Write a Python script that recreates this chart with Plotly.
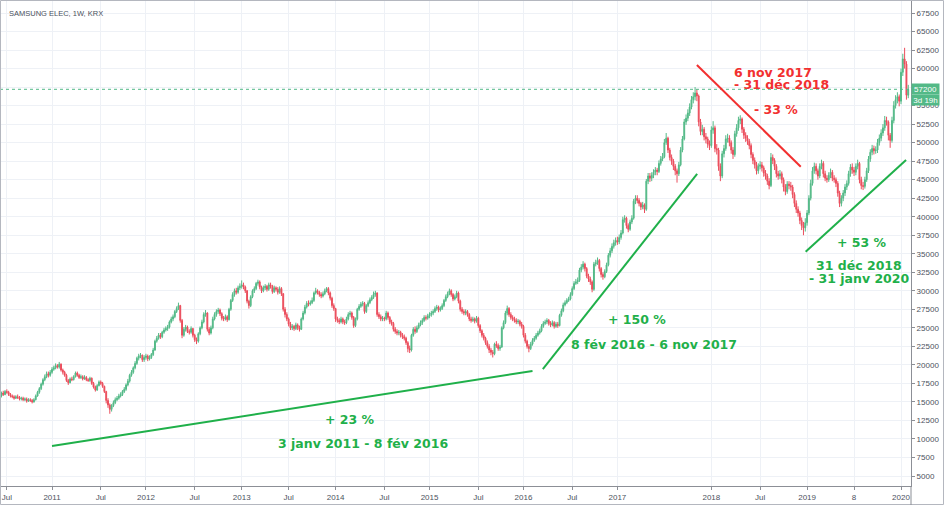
import pandas as pd
import plotly.graph_objects as go

# ---------------- data (weekly candles, KRW) ----------------
title_text = "SAMSUNG ELEC, 1W, KRX"
first_week = "2010-06-14"

opens = [
    # 2010
    16600,15800,16200,16000,16400,16300,16000,15800,15700,15500,15700,15600,15400,15500,15300,15400,15100,15300,15200,15000,15300,15800,16300,16800,17400,18000,18400,18800,18600,
    # 2011
    19000,19400,19600,19900,19700,20100,19300,19000,18600,17900,17600,18100,18000,18400,18900,18600,18300,18400,18100,18300,18000,17900,18200,17500,17000,16600,17200,17700,17500,17100,16400,15200,14600,14000,14500,14900,15300,15500,15800,16000,16400,16700,17300,17800,18600,19000,19600,20200,20900,21200,21300,20700,
    # 2012
    21000,21200,20800,21000,21400,22000,23200,23600,24000,23800,24400,24700,24900,25100,25800,26200,26500,27200,27600,28000,26000,24000,24800,25100,24500,24400,24900,24000,23400,23200,24200,25000,25800,26800,27000,24800,24300,25000,26200,26800,27200,27400,26900,26300,26200,26500,26100,27500,28700,29500,30000,29800,
    # 2013
    30400,30600,30800,30500,30000,28600,28000,29200,30000,30300,31000,31200,30500,30000,30400,30600,30200,30800,30600,29900,30400,30200,29800,30300,29600,27500,26800,26200,25500,25000,25200,24900,25400,25000,24800,26200,27000,27800,28300,28200,28400,28700,29700,30000,29800,29500,29300,29600,30000,30300,29700,29000,
    # 2014
    28000,27600,26200,26000,25800,26200,25800,25700,26200,26800,27000,26400,25300,26200,27500,27900,28200,28300,27200,28000,28400,28800,29100,29500,29700,26800,26500,26200,26300,26200,27000,26400,25800,25600,24800,24500,24300,24400,24000,23800,23600,23000,22200,22000,24000,24800,24500,25000,25400,25700,26000,26400,
    # 2015
    26300,26600,26800,27000,27200,27600,27800,27400,27600,28000,28700,29200,29600,30000,29500,28900,29200,29700,28600,27500,27200,27000,27200,26800,26200,26000,26200,25900,26300,25300,24600,24000,23600,23000,22500,22000,21700,21500,22800,22600,22200,22400,25000,25700,27000,27600,26800,26400,26200,26000,25800,25900,
    # 2016
    25500,25200,24000,23200,22500,22200,22800,23300,23600,24000,24300,24600,25200,25600,25800,26000,25600,25400,25700,25200,25500,25300,26700,27300,28100,28400,28700,28900,29500,30300,31000,31200,31400,32800,33200,33600,33000,32000,31600,31200,30200,33600,33800,34100,33000,32200,31900,32600,33500,34800,35400,36000,
    # 2017
    36500,36800,36600,37200,37800,39600,39800,38800,38300,39300,39800,42100,42500,42200,41800,41300,41600,41000,44800,45500,45200,45600,46000,46300,46100,47200,47800,48100,50000,50600,49000,48000,47500,46800,46200,45800,47000,49000,50500,52800,53300,54000,54800,55800,56200,56700,56300,52800,51500,51800,50800,50500,49800,
    # 2018
    49600,51700,52000,49200,49000,46800,45500,48500,49200,50500,50600,50000,49000,48400,51200,52000,53000,53200,51800,51000,50600,50200,49600,48400,47600,47000,46200,46800,47000,46600,45900,45500,44800,44200,48000,47600,46800,45800,45500,45800,45000,44000,43400,44400,44200,44000,43000,41800,41000,40500,39500,38800,
    # 2019
    38500,39200,40500,42500,44500,46200,46800,46200,45500,46800,47200,45800,45200,45000,45600,46000,45200,45000,44500,43200,41800,42500,43200,44000,44500,45800,46700,46300,46000,46800,47200,45000,44200,44100,45000,46200,47800,48700,49200,48900,49000,50000,50600,51300,52000,53000,52800,51000,50300,53000,55000,55800,
    # 2020
    56200,55600,59500,61300,60600,56400,
]

highs = [
    # 2010
    16900,16400,16500,16600,16700,16500,16200,16000,15900,15900,16000,15800,15700,15700,15600,15600,15500,15500,15400,15500,16000,16500,17000,17600,18200,18700,19100,19100,19300,
    # 2011
    19700,19900,20200,20100,20400,20200,19500,19200,18800,18100,18300,18400,18600,19100,19100,18800,18700,18600,18600,18500,18200,18400,18300,17700,17200,17400,17900,17900,17700,17200,16500,15500,14800,14700,15200,15600,15800,16100,16300,16600,17000,17500,18100,18800,19300,19800,20500,21100,21500,21600,21400,21300,
    # 2012
    21500,21400,21300,21600,22300,23400,23900,24300,24300,24600,25000,25200,25400,26000,26500,26800,27400,27900,28400,28100,26200,25100,25400,25300,24800,25200,25000,24200,23700,24400,25200,26100,27100,27400,27100,25100,25300,26500,27100,27500,27700,27600,27100,26600,26800,26700,27700,28900,29800,30300,30400,30700,
    # 2013
    31000,31400,31100,30700,30100,28800,29400,30200,30600,31200,31500,31400,30700,30700,30900,30800,31100,31100,30800,30700,30600,30500,30600,30500,29700,27800,27100,26400,25800,25500,25400,25700,25600,25300,26400,27300,28100,28600,28700,28700,29100,29900,30400,30200,30000,29800,29900,30300,30500,30500,29900,29200,
    # 2014
    28300,27700,26500,26300,26500,26400,26100,26500,27100,27300,27200,26600,26400,27700,28200,28500,28600,28500,28200,28700,29100,29400,29900,30000,29800,27100,26800,26600,26500,27300,27200,26600,26100,25800,25100,24800,24700,24600,24300,24100,23800,23200,22600,24200,25100,25200,25300,25700,26000,26300,26700,26700,
    # 2015
    26900,27100,27300,27500,27900,28100,28000,27900,28300,28900,29500,29900,30300,30200,29700,29500,30000,29900,28800,27800,27500,27500,27400,27000,26500,26500,26400,26600,26500,25500,24800,24300,23800,23300,22800,22300,22000,23000,23200,22900,22700,25200,26000,27300,28000,27800,27100,26700,26500,26300,26200,26100,
    # 2016
    25800,25400,24300,23400,22800,23100,23600,23900,24300,24600,24900,25500,25900,26100,26300,26200,25900,26000,25900,25800,25800,26900,27600,28400,28700,29000,29200,29800,30600,31300,31600,31800,33100,33600,34000,33800,33200,32300,31900,31400,33900,34200,34500,34300,33200,32500,32900,33800,35100,35800,36400,36900,
    # 2017
    37200,37300,37600,38200,40000,40200,40000,39100,39600,40200,42400,42900,42900,42500,42000,42000,41800,45100,45900,45900,46000,46400,46700,46600,47600,48200,48600,50500,51300,50800,49300,48400,47800,47100,46500,47400,49400,50900,53200,53800,54500,55300,56300,56800,57500,57200,56500,53200,52400,52100,51300,50800,50300,
    # 2018
    52200,52900,52300,49800,49300,47200,48900,49700,51000,51200,51000,50300,49400,51600,52500,53500,53700,53400,52100,51400,51000,50500,49900,48700,48000,47400,47200,47500,47400,46900,46300,45800,45200,48600,48400,47900,47100,46200,46300,46100,45300,44400,44800,44800,44700,44300,43300,42200,41400,40800,39900,39300,
    # 2019
    39800,40900,42900,45000,46700,47300,47200,46500,47200,47700,47500,46200,45600,46000,46500,46300,45600,45300,44800,43500,42900,43600,44400,44900,46200,47100,47200,46700,47200,47700,47400,45400,44700,45400,46600,48200,49100,49700,49600,49500,50500,51100,51800,52500,53600,53500,53000,51300,53500,55600,56400,56800,
    # 2020
    56500,60000,62000,62800,61000,57800,
]

lows = [
    # 2010
    15500,15600,15800,15900,16100,15800,15600,15500,15300,15400,15400,15200,15200,15100,15100,14900,15000,15000,14800,14900,15200,15700,16100,16600,17200,17800,18200,18300,18400,
    # 2011
    18800,19200,19400,19500,19500,19100,18700,18400,17700,17300,17500,17800,17900,18300,18400,18100,18100,17900,18000,17800,17700,17700,17300,16800,16400,16500,17100,17300,16900,16200,14800,14200,13400,13700,14300,14700,15100,15300,15600,15800,16200,16500,17100,17600,18400,18800,19400,20000,20600,20900,20400,20400,
    # 2012
    20700,20500,20600,20800,21200,21900,23000,23400,23500,23600,24200,24500,24600,24900,25600,25900,26300,27000,27400,25700,23600,23800,24500,24300,24100,24200,23700,23100,22800,23000,24000,24800,25600,26500,24500,24000,24100,24800,26000,26500,26900,26600,26000,25900,26000,25800,26000,27300,28500,29200,29500,29600,
    # 2013
    30100,30300,30200,29700,28300,27600,27800,29000,29700,30100,30700,30200,29700,29800,30100,29900,30000,30300,29600,29700,29900,29500,29600,29300,27200,26400,25900,25200,24700,24700,24600,24700,24700,24500,24700,26000,26800,27600,27900,28000,28200,28500,29500,29500,29200,29000,29100,29400,29800,29400,28700,27700,
    # 2014
    27300,25800,25700,25500,25600,25500,25400,25500,26000,26500,26100,25000,25100,26000,27300,27700,27900,26900,27000,27800,28200,28600,28900,29200,26500,26200,25900,25900,25900,26000,26100,25500,25300,24500,24200,24000,24000,23700,23500,23300,22700,21700,21600,21800,23800,24200,24300,24800,25200,25400,25800,26000,
    # 2015
    26100,26300,26500,26700,27000,27300,27100,27200,27400,27800,28500,29000,29400,29200,28600,28700,29000,28300,27200,26900,26700,26700,26500,25900,25700,25800,25600,25700,25000,24300,23700,23300,22700,22200,21600,21300,21000,21300,22300,21900,21900,22300,24800,25500,26700,26500,26100,25900,25700,25500,25500,25200,
    # 2016
    24900,23700,22900,22200,21700,22000,22600,23100,23400,23800,24100,24400,25000,25400,25500,25300,25100,25200,24900,25000,25000,25200,26500,27100,27900,28200,28500,28700,29300,30100,30800,30900,31200,32500,32900,32600,31700,31200,30800,29800,30000,33300,33500,32600,31800,31500,31700,32400,33300,34500,35100,35700,
    # 2017
    36100,36200,36300,36900,37600,39200,38400,37900,38100,39000,39600,41700,41800,41400,40900,41000,40500,40800,44400,44700,44800,45200,45600,45600,45900,46900,47500,47900,49700,48600,47600,47000,46300,45600,44600,45500,46800,48700,50300,52400,52900,53600,54500,55300,55700,55600,52200,51000,51000,50300,49900,49300,49000,
    # 2018
    49300,51200,48700,48400,46200,44800,45200,48000,48900,50000,49500,48500,47800,48100,50800,51600,52500,51300,50500,50100,49700,49100,47900,47100,46500,45700,45800,46400,46100,45400,45000,44300,43700,44000,47100,46300,45300,45000,45100,44500,43400,42900,43100,43700,43500,42500,41300,40500,40000,39000,38200,37500,
    # 2019
    38000,38800,40200,42200,44200,45800,45700,45000,45200,46400,45300,44800,44600,44700,45200,44800,44600,44000,42700,41300,41400,42100,42800,43600,44200,45400,45800,45500,45600,46400,44500,43700,43600,43800,44700,45900,47400,48300,48400,48500,48600,49600,50200,50900,51600,52300,50300,49300,50000,52600,54600,55300,
    # 2020
    54900,55200,59000,60000,55800,56000,
]

closes = [
    # 2010
    15800,16200,16000,16400,16300,16000,15800,15700,15500,15700,15600,15400,15500,15300,15400,15100,15300,15200,15000,15300,15800,16300,16800,17400,18000,18400,18800,18600,19000,
    # 2011
    19400,19600,19900,19700,20100,19300,19000,18600,17900,17600,18100,18000,18400,18900,18600,18300,18400,18100,18300,18000,17900,18200,17500,17000,16600,17200,17700,17500,17100,16400,15200,14600,14000,14500,14900,15300,15500,15800,16000,16400,16700,17300,17800,18600,19000,19600,20200,20900,21200,21300,20700,21000,
    # 2012
    21200,20800,21000,21400,22000,23200,23600,24000,23800,24400,24700,24900,25100,25800,26200,26500,27200,27600,28000,26000,24000,24800,25100,24500,24400,24900,24000,23400,23200,24200,25000,25800,26800,27000,24800,24300,25000,26200,26800,27200,27400,26900,26300,26200,26500,26100,27500,28700,29500,30000,29800,30400,
    # 2013
    30600,30800,30500,30000,28600,28000,29200,30000,30300,31000,31200,30500,30000,30400,30600,30200,30800,30600,29900,30400,30200,29800,30300,29600,27500,26800,26200,25500,25000,25200,24900,25400,25000,24800,26200,27000,27800,28300,28200,28400,28700,29700,30000,29800,29500,29300,29600,30000,30300,29700,29000,28000,
    # 2014
    27600,26200,26000,25800,26200,25800,25700,26200,26800,27000,26400,25300,26200,27500,27900,28200,28300,27200,28000,28400,28800,29100,29500,29700,26800,26500,26200,26300,26200,27000,26400,25800,25600,24800,24500,24300,24400,24000,23800,23600,23000,22200,22000,24000,24800,24500,25000,25400,25700,26000,26400,26300,
    # 2015
    26600,26800,27000,27200,27600,27800,27400,27600,28000,28700,29200,29600,30000,29500,28900,29200,29700,28600,27500,27200,27000,27200,26800,26200,26000,26200,25900,26300,25300,24600,24000,23600,23000,22500,22000,21700,21500,22800,22600,22200,22400,25000,25700,27000,27600,26800,26400,26200,26000,25800,25900,25500,
    # 2016
    25200,24000,23200,22500,22200,22800,23300,23600,24000,24300,24600,25200,25600,25800,26000,25600,25400,25700,25200,25500,25300,26700,27300,28100,28400,28700,28900,29500,30300,31000,31200,31400,32800,33200,33600,33000,32000,31600,31200,30200,33600,33800,34100,33000,32200,31900,32600,33500,34800,35400,36000,36500,
    # 2017
    36800,36600,37200,37800,39600,39800,38800,38300,39300,39800,42100,42500,42200,41800,41300,41600,41000,44800,45500,45200,45600,46000,46300,46100,47200,47800,48100,50000,50600,49000,48000,47500,46800,46200,45800,47000,49000,50500,52800,53300,54000,54800,55800,56200,56700,56300,52800,51500,51800,50800,50500,49800,49600,
    # 2018
    51700,52000,49200,49000,46800,45500,48500,49200,50500,50600,50000,49000,48400,51200,52000,53000,53200,51800,51000,50600,50200,49600,48400,47600,47000,46200,46800,47000,46600,45900,45500,44800,44200,48000,47600,46800,45800,45500,45800,45000,44000,43400,44400,44200,44000,43000,41800,41000,40500,39500,38800,38500,
    # 2019
    39200,40500,42500,44500,46200,46800,46200,45500,46800,47200,45800,45200,45000,45600,46000,45200,45000,44500,43200,41800,42500,43200,44000,44500,45800,46700,46300,46000,46800,47200,45000,44200,44100,45000,46200,47800,48700,49200,48900,49000,50000,50600,51300,52000,53000,52800,51000,50300,53000,55000,55800,56200,
    # 2020
    55600,59500,61300,60600,56400,57200,
]

assert len(opens) == len(highs) == len(lows) == len(closes), (len(opens), len(highs), len(lows), len(closes))

price_ticks = [5000, 7500, 10000, 12500, 15000, 17500, 20000, 22500, 25000, 27500, 30000, 32500,
               35000, 37500, 40000, 42500, 45000, 47500, 50000, 52500, 55000, 57500, 60000, 62500,
               65000, 67500]
# 57500 is hidden under the last-price tag in the reference
price_tick_labels = ["5000", "7500", "10000", "12500", "15000", "17500", "20000", "22500", "25000",
                     "27500", "30000", "32500", "35000", "37500", "40000", "42500", "45000", "47500",
                     "50000", "52500", "55000", "", "60000", "62500", "65000", "67500"]
time_tick_dates = ["2010-07-12", "2011-01-03", "2011-07-11", "2012-01-02", "2012-07-09", "2013-01-07",
                   "2013-07-08", "2014-01-06", "2014-07-14", "2015-01-05", "2015-07-13", "2016-01-04",
                   "2016-07-11", "2017-01-02", "2018-01-01", "2018-07-09", "2019-01-07", "2019-07-08",
                   "2020-01-06"]
time_tick_labels = ["Jul", "2011", "Jul", "2012", "Jul", "2013", "Jul", "2014", "Jul", "2015", "Jul",
                    "2016", "Jul", "2017", "2018", "Jul", "2019", "8", "2020"]

# trend lines: (start date, start price, end date, end price)
trend_up_1 = ("2011-01-03", 9050, "2016-02-08", 19170)
trend_up_2 = ("2016-03-19", 19440, "2017-11-07", 45770)
trend_down = ("2017-11-06", 60480, "2018-12-13 12:00", 46750)
trend_up_3 = ("2019-01-01 10:00", 35280, "2020-01-25 14:00", 47660)

label_23 = ["+ 23 %", "3 janv 2011 - 8 fév 2016"]
label_150 = ["+ 150 %", "8 fév 2016 - 6 nov 2017"]
label_33 = ["6 nov 2017", "- 31 déc 2018", "- 33 %"]
label_53 = ["+ 53 %", "31 déc 2018", "- 31 janv 2020"]
countdown_text = "3d 19h"

# ---------------- figure ----------------
UP = "#53b987"
DOWN = "#eb4d5c"
GREEN = "#1fb04a"
RED = "#f23030"
GRID = "#eef1f6"
AXIS = "#8c8f96"
TXT = "#4c525e"

W, H = 944, 505
ML, MR, MT, MB = 0, 33, 0, 19
PW, PH = W - ML - MR, H - MT - MB

dates = pd.date_range(first_week, periods=len(closes), freq="7D")
last_price = closes[-1]

fig = go.Figure()
fig.add_trace(go.Candlestick(
    x=dates, open=opens, high=highs, low=lows, close=closes,
    increasing=dict(line=dict(color=UP, width=1), fillcolor=UP),
    decreasing=dict(line=dict(color=DOWN, width=1), fillcolor=DOWN),
    whiskerwidth=0, hoverinfo="skip", showlegend=False,
))

fig.update_layout(
    width=W, height=H,
    margin=dict(l=ML, r=MR, t=MT, b=MB, pad=0),
    paper_bgcolor="white", plot_bgcolor="white",
    showlegend=False, hovermode=False,
)
fig.update_xaxes(
    type="date", range=["2010-06-15 12:00", "2020-02-13 17:00"],
    rangeslider_visible=False,
    tickmode="array", tickvals=time_tick_dates, ticktext=time_tick_labels,
    showgrid=True, gridcolor=GRID, gridwidth=1,
    ticks="outside", ticklen=3, tickcolor=AXIS,
    showline=True, linecolor=AXIS, linewidth=1, zeroline=False,
    tickfont=dict(family="Liberation Sans", size=8, color=TXT),
)
fig.update_yaxes(
    side="right", range=[3650, 69255],
    tickmode="array", tickvals=price_ticks, ticktext=price_tick_labels,
    showgrid=True, gridcolor=GRID, gridwidth=1,
    ticks="outside", ticklen=3, tickcolor=AXIS,
    showline=True, linecolor=AXIS, linewidth=1, zeroline=False,
    tickfont=dict(family="Liberation Sans", size=8, color=TXT),
)

def px_x(p):
    return p / PW

def px_y(p):
    return 1 - p / PH

shapes = []
# last price dotted line
shapes.append(dict(type="line", xref="paper", yref="y", x0=0, x1=1, y0=last_price, y1=last_price,
                   line=dict(color=UP, width=1, dash="dot")))
# trend lines
for seg, col in [(trend_up_1, GREEN), (trend_up_2, GREEN), (trend_down, RED), (trend_up_3, GREEN)]:
    shapes.append(dict(type="line", xref="x", yref="y", x0=seg[0], y0=seg[1], x1=seg[2], y1=seg[3],
                       line=dict(color=col, width=2)))
# outer frame & axis extension
shapes.append(dict(type="rect", xref="paper", yref="paper",
                   x0=px_x(0.5), x1=px_x(W - 0.5), y0=px_y(H - 0.5), y1=px_y(0.5),
                   line=dict(color="#b4b7bf", width=1), fillcolor="rgba(0,0,0,0)"))
shapes.append(dict(type="line", xref="paper", yref="paper", x0=1, x1=1, y0=px_y(H), y1=0,
                   line=dict(color=AXIS, width=1)))
fig.update_layout(shapes=shapes)

def label(text, cx, cy, color, anchor="center"):
    fig.add_annotation(x=px_x(cx), y=px_y(cy), xref="paper", yref="paper",
                       xanchor=anchor, yanchor="middle", showarrow=False,
                       text="<b>" + text + "</b>",
                       font=dict(family="DejaVu Sans", size=12.5, color=color))

label(label_23[0], 350, 419, GREEN)
label(label_23[1], 363, 443, GREEN)
label(label_150[0], 637, 319, GREEN)
label(label_150[1], 654, 344, GREEN)
label(label_33[0], 732, 72, RED, "left")
label(label_33[1], 732, 84, RED, "left")
label(label_33[2], 776, 109, RED)
label(label_53[0], 862, 242, GREEN)
label(label_53[1], 859, 265, GREEN)
label(label_53[2], 859, 278, GREEN)

# title
fig.add_annotation(x=px_x(7), y=px_y(13), xref="paper", yref="paper", xanchor="left", yanchor="middle",
                   showarrow=False, text=title_text,
                   font=dict(family="Liberation Sans", size=7.5, color=TXT))

# last price tag + countdown
fig.add_annotation(x=1, xref="paper", xanchor="left", y=last_price, yref="y", yanchor="middle",
                   showarrow=False, text=str(last_price), bgcolor=UP, width=27, height=10,
                   borderpad=0, align="center",
                   font=dict(family="Liberation Sans", size=8, color="white"))
fig.add_annotation(x=1, xref="paper", xanchor="left", y=last_price, yref="y", yanchor="middle",
                   yshift=-11, showarrow=False, text=countdown_text, bgcolor=UP, width=27, height=10,
                   borderpad=0, align="center",
                   font=dict(family="Liberation Sans", size=8, color="white"))

fig.write_html("out.html", config={"displayModeBar": False},
               post_script="document.body.style.margin='0';document.body.style.padding='0';"
                           "document.body.style.overflow='hidden';")
